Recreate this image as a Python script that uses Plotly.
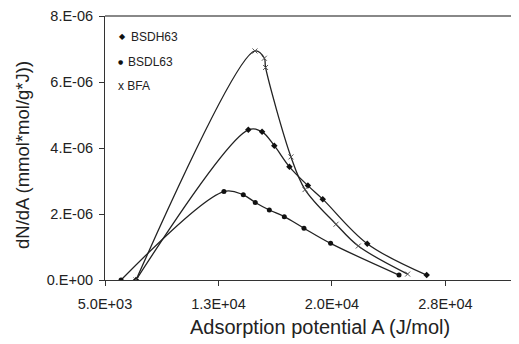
import plotly.graph_objects as go

# Data
bsdh63_x = [7050, 14470, 15380, 16190, 17190, 18410, 19390, 22330, 26260]
bsdh63_y = [0.0, 4.55e-6, 4.49e-6, 4.07e-6, 3.43e-6, 2.86e-6, 2.45e-6, 1.10e-6, 0.15e-6]

bsdl63_x = [6060, 12860, 14140, 14930, 15860, 16850, 18150, 19910, 24430]
bsdl63_y = [0.0, 2.68e-6, 2.58e-6, 2.35e-6, 2.12e-6, 1.92e-6, 1.57e-6, 1.11e-6, 0.15e-6]

bfa_x = [7050, 14910, 15530, 15610, 17290, 18220, 20270, 21740, 25000]
bfa_y = [0.0, 6.94e-6, 6.72e-6, 6.44e-6, 3.73e-6, 2.74e-6, 1.69e-6, 1.03e-6, 0.18e-6]

x_tickvals = [5000, 12500, 20000, 27500]
x_ticktext = ["5.0E+03", "1.3E+04", "2.0E+04", "2.8E+04"]
y_tickvals = [0, 2e-6, 4e-6, 6e-6, 8e-6]
y_ticktext = ["0.E+00", "2.E-06", "4.E-06", "6.E-06", "8.E-06"]

FONT = "Liberation Sans, Arial, sans-serif"
TXT = "#222222"
LINE = dict(color="#222222", width=1.3, shape="spline", smoothing=1)

fig = go.Figure()
fig.add_trace(go.Scatter(x=bsdh63_x, y=bsdh63_y, mode="lines+markers", name="BSDH63",
                         line=LINE, marker=dict(symbol="diamond", size=5, color="#111111")))
fig.add_trace(go.Scatter(x=bsdl63_x, y=bsdl63_y, mode="lines+markers", name="BSDL63",
                         line=LINE, marker=dict(symbol="circle", size=5, color="#111111")))
fig.add_trace(go.Scatter(x=bfa_x, y=bfa_y, mode="lines+markers", name="BFA",
                         line=LINE, marker=dict(symbol="x-thin", size=5,
                                                line=dict(color="#555555", width=1))))

# page body has an 8px margin, so the figure is sized to fit the 519x344 window
W, H = 511, 336
L, T, B = 97, 8, 64
PW, PH = W - L, H - T - B

fig.update_layout(
    width=W, height=H,
    margin=dict(l=L, r=0, t=T, b=B, pad=0),
    paper_bgcolor="white", plot_bgcolor="white",
    showlegend=False,
    font=dict(family=FONT, color=TXT, size=14),
    xaxis=dict(range=[5000, 32360], tickvals=x_tickvals, ticktext=x_ticktext,
               showgrid=False, zeroline=False, showline=True, linecolor="#333333",
               linewidth=1, ticks="outside", ticklen=5, tickcolor="#333333",
               ticklabelstandoff=6,
               tickfont=dict(size=14.5, family=FONT, color=TXT)),
    yaxis=dict(range=[0, 8e-6], tickvals=y_tickvals, ticktext=y_ticktext,
               showgrid=False, zeroline=False, showline=True, linecolor="#333333",
               linewidth=1, ticks="outside", ticklen=5, tickcolor="#333333",
               ticklabelstandoff=3,
               tickfont=dict(size=14.5, family=FONT, color=TXT)),
)

# top border of the plot area
fig.add_shape(type="line", xref="paper", yref="paper", x0=0, x1=1, y0=1, y1=1,
              line=dict(color="#888888", width=2))

# helpers: screen pixel -> paper coordinate
def px(xs):
    return (xs - 8 - L) / PW

def py(ys):
    return (T + PH - (ys - 8)) / PH

# axis titles
fig.add_annotation(xref="paper", yref="paper", x=px(320), y=py(327),
                   text="Adsorption potential A (J/mol)", showarrow=False,
                   xanchor="center", yanchor="middle",
                   font=dict(size=20, family=FONT, color=TXT))
fig.add_annotation(xref="paper", yref="paper", x=px(22), y=py(155),
                   text="dN/dA (mmol*mol/g*J))", showarrow=False, textangle=-90,
                   xanchor="center", yanchor="middle",
                   font=dict(size=18.5, family=FONT, color=TXT))

# legend drawn inside the plot area
for sym, xx, yy, sz in [("◆", 122.7, 36.7, 8), ("●", 120.7, 61.7, 6)]:
    fig.add_annotation(xref="paper", yref="paper", x=px(xx), y=py(yy), text=sym,
                       showarrow=False, xanchor="center", yanchor="middle",
                       font=dict(size=sz, color="#111111", family="DejaVu Sans"))
for txt, xx, yy in [("BSDH63", 129, 36.7), ("BSDL63", 126, 61.7), ("x BFA", 116, 86)]:
    fig.add_annotation(xref="paper", yref="paper", x=px(xx), y=py(yy), text=txt,
                       showarrow=False, xanchor="left", yanchor="middle",
                       font=dict(size=12, color=TXT, family=FONT))

fig.write_html("out.html")
